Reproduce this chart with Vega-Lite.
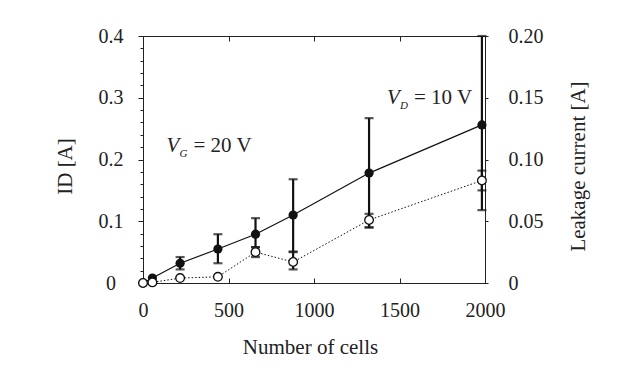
{
  "$schema": "https://vega.github.io/schema/vega-lite/v6.json",
  "width": 342,
  "height": 247,
  "autosize": {"type": "none"},
  "padding": {"left": 143, "top": 36, "right": 149, "bottom": 89},
  "background": "white",
  "config": {
    "view": {"stroke": "#222", "strokeWidth": 1},
    "font": "Liberation Serif",
    "axis": {
      "labelFont": "Liberation Serif",
      "labelFontSize": 20,
      "labelColor": "#222",
      "titleFont": "Liberation Serif",
      "titleFontSize": 21,
      "titleFontWeight": "normal",
      "titleColor": "#222",
      "domainColor": "#222",
      "tickColor": "#222",
      "tickWidth": 1,
      "tickOpacity": 1,
      "labelOverlap": false,
      "labelFlush": false,
      "labelBound": false,
      "grid": false
    }
  },
  "datasets": {
    "pts": [
      {"cells": 0, "id": 0, "leak": 0},
      {"cells": 55, "id": 0.008, "leak": 0.0005},
      {"cells": 217, "id": 0.032, "id_lo": 0.022, "id_hi": 0.042, "leak": 0.004},
      {"cells": 438, "id": 0.055, "id_lo": 0.032, "id_hi": 0.079, "leak": 0.005},
      {"cells": 658, "id": 0.079, "id_lo": 0.058, "id_hi": 0.105, "leak": 0.025, "leak_lo": 0.021, "leak_hi": 0.029},
      {"cells": 878, "id": 0.11, "id_lo": 0.051, "id_hi": 0.168, "leak": 0.017, "leak_lo": 0.011, "leak_hi": 0.025},
      {"cells": 1322, "id": 0.178, "id_lo": 0.09, "id_hi": 0.267, "leak": 0.051, "leak_lo": 0.045, "leak_hi": 0.056},
      {"cells": 1982, "id": 0.256, "id_lo": 0.118, "id_hi": 0.4, "leak": 0.083, "leak_lo": 0.075, "leak_hi": 0.091}
    ],
    "notes": [
      {"main": "V", "sub": "G", "rest": "= 20 V", "cells": 137, "amps": 0.212},
      {"main": "V", "sub": "D", "rest": "= 10 V", "cells": 1427, "amps": 0.29}
    ]
  },
  "data": {"name": "pts"},
  "resolve": {"scale": {"x": "independent", "y": "independent"}},
  "layer": [
    {
      "layer": [
        {
          "mark": {"type": "line", "color": "#111", "strokeWidth": 1.2},
          "encoding": {
            "x": {
              "field": "cells", "type": "quantitative",
              "scale": {"domain": [0, 2000], "nice": false, "zero": false},
              "axis": {
                "orient": "bottom",
                "values": [0, 500, 1000, 1500, 2000],
                "tickCount": 100,
                "format": "d",
                "title": "Number of cells",
                "ticks": true,
                "tickSize": -5,
                "grid": false,
                "labelOverlap": false,
                "labelFlush": false,
                "labelPadding": 32,
                "labelBaseline": "middle",
                "titleX": 167,
                "titleY": 64,
                "titleBaseline": "middle"
              }
            },
            "y": {
              "field": "id", "type": "quantitative",
              "scale": {"domain": [0, 0.4], "nice": false, "zero": false},
              "axis": {
                "orient": "left",
                "values": [0, 0.02, 0.04, 0.06, 0.08, 0.1, 0.12, 0.14, 0.16, 0.18, 0.2, 0.22, 0.24, 0.26, 0.28, 0.3, 0.32, 0.34, 0.36, 0.38, 0.4],
                "tickCount": 100,
                "labelExpr": "abs(datum.value) < 0.001 ? '0' : ((abs(datum.value - 0.1) < 0.001 || abs(datum.value - 0.2) < 0.001 || abs(datum.value - 0.3) < 0.001 || abs(datum.value - 0.4) < 0.001) ? format(datum.value, '.1f') : '')",
                "title": "ID [A]",
                "ticks": true,
                "tickSize": {"condition": {"test": "abs(datum.value - 0.1) < 0.001 || abs(datum.value - 0.2) < 0.001 || abs(datum.value - 0.3) < 0.001 || abs(datum.value) < 0.001 || abs(datum.value - 0.4) < 0.001", "value": 5}, "value": 3},
                "grid": false,
                "labelOverlap": false,
                "labelAlign": "center",
                "labelBaseline": "middle",
                "labelPadding": 27.5,
                "titleAngle": 270,
                "titleBaseline": "middle",
                "titleX": -78,
                "titleY": 130
              }
            }
          }
        },
        {
          "transform": [{"filter": "isValid(datum.id_lo)"}],
          "mark": {"type": "errorbar", "color": "#111", "thickness": 2.2, "ticks": {"size": 9}},
          "encoding": {
            "x": {"field": "cells", "type": "quantitative"},
            "y": {"field": "id_lo", "type": "quantitative", "title": "ID [A]"},
            "y2": {"field": "id_hi"}
          }
        },
        {
          "mark": {"type": "point", "shape": "circle", "filled": true, "color": "#111", "size": 85, "opacity": 1},
          "encoding": {
            "x": {"field": "cells", "type": "quantitative"},
            "y": {"field": "id", "type": "quantitative"}
          }
        },
        {
          "data": {"name": "notes"},
          "mark": {"type": "text", "align": "left", "baseline": "alphabetic", "fontSize": 21, "fontStyle": "italic", "color": "#222"},
          "encoding": {
            "x": {"field": "cells", "type": "quantitative"},
            "y": {"field": "amps", "type": "quantitative"},
            "text": {"field": "main"}
          }
        },
        {
          "data": {"name": "notes"},
          "mark": {"type": "text", "align": "left", "baseline": "alphabetic", "fontSize": 11, "fontStyle": "italic", "dx": 13, "dy": 5, "color": "#222"},
          "encoding": {
            "x": {"field": "cells", "type": "quantitative"},
            "y": {"field": "amps", "type": "quantitative"},
            "text": {"field": "sub"}
          }
        },
        {
          "data": {"name": "notes"},
          "mark": {"type": "text", "align": "left", "baseline": "alphabetic", "fontSize": 21, "dx": 27, "color": "#222"},
          "encoding": {
            "x": {"field": "cells", "type": "quantitative"},
            "y": {"field": "amps", "type": "quantitative"},
            "text": {"field": "rest"}
          }
        }
      ]
    },
    {
      "layer": [
        {
          "mark": {"type": "line", "color": "#111", "strokeWidth": 1, "strokeDash": [1.5, 2]},
          "encoding": {
            "x": {
              "field": "cells", "type": "quantitative",
              "scale": {"domain": [0, 2000], "nice": false, "zero": false},
              "axis": {
                "orient": "top",
                "values": [500, 1000, 1500],
                "tickCount": 100,
                "labels": false,
                "title": null,
                "ticks": true,
                "tickSize": -5,
                "grid": false
              }
            },
            "y": {
              "field": "leak", "type": "quantitative",
              "scale": {"domain": [0, 0.2], "nice": false, "zero": false},
              "axis": {
                "orient": "right",
                "values": [0, 0.05, 0.1, 0.15, 0.2],
                "tickCount": 100,
                "labelExpr": "datum.value == 0 ? '0' : format(datum.value, '.2f')",
                "title": "Leakage current [A]",
                "ticks": true,
                "tickSize": 3,
                "grid": false,
                "labelOverlap": false,
                "labelAlign": "left",
                "labelBaseline": "middle",
                "labelPadding": 20,
                "titleAngle": 270,
                "titleBaseline": "middle",
                "titleX": 93,
                "titleY": 130
              }
            }
          }
        },
        {
          "transform": [{"filter": "isValid(datum.leak_lo)"}],
          "mark": {"type": "errorbar", "color": "#111", "thickness": 2.2, "ticks": {"size": 9}},
          "encoding": {
            "x": {"field": "cells", "type": "quantitative"},
            "y": {"field": "leak_lo", "type": "quantitative", "title": "Leakage current [A]"},
            "y2": {"field": "leak_hi"}
          }
        },
        {
          "mark": {"type": "point", "shape": "circle", "filled": true, "fill": "white", "stroke": "#111", "strokeWidth": 1.3, "size": 75, "opacity": 1},
          "encoding": {
            "x": {"field": "cells", "type": "quantitative"},
            "y": {"field": "leak", "type": "quantitative"}
          }
        }
      ]
    }
  ]
}
